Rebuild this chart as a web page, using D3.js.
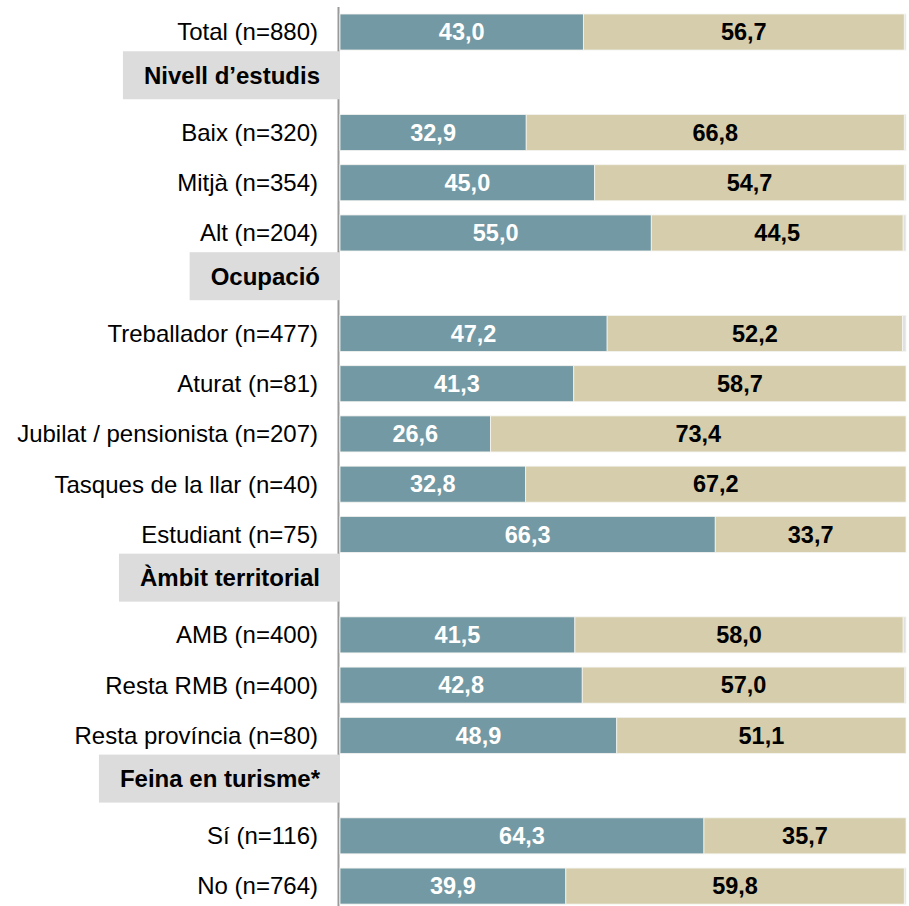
<!DOCTYPE html>
<html>
<head>
<meta charset="utf-8">
<script src="https://cdn.jsdelivr.net/npm/d3@7"></script>
<style>
  html, body { margin: 0; padding: 0; background: #fff; }
  svg { display: block; font-family: Arial, "Liberation Sans", sans-serif; }
</style>
</head>
<body>
<svg id="chart" width="909" height="906"></svg>
<script>
const categories = [
  "Total (n=880)", "Nivell d’estudis", "Baix (n=320)", "Mitjà (n=354)", "Alt (n=204)",
  "Ocupació", "Treballador (n=477)", "Aturat (n=81)", "Jubilat / pensionista (n=207)",
  "Tasques de la llar (n=40)", "Estudiant (n=75)", "Àmbit territorial", "AMB (n=400)",
  "Resta RMB (n=400)", "Resta província (n=80)", "Feina en turisme*", "Sí (n=116)", "No (n=764)"
];
const headers = ["Nivell d’estudis", "Ocupació", "Àmbit territorial", "Feina en turisme*"];
const seriesA = [43.0, null, 32.9, 45.0, 55.0, null, 47.2, 41.3, 26.6, 32.8, 66.3, null, 41.5, 42.8, 48.9, null, 64.3, 39.9];
const seriesB = [56.7, null, 66.8, 54.7, 44.5, null, 52.2, 58.7, 73.4, 67.2, 33.7, null, 58.0, 57.0, 51.1, null, 35.7, 59.8];
const seriesC = [0.3, null, 0.3, 0.3, 0.5, null, 0.6, 0, 0, 0, 0, null, 0.5, 0.2, 0, null, 0, 0.3];

const colors = { a: "#7399A4", b: "#D5CDAB", c: "#E1E1E1" };

const svg = d3.select("#chart");
const fmt = d3.formatLocale({ decimal: ",", thousands: "." }).format(".1f");

const x = d3.scaleLinear().domain([0, 100]).range([340, 906]);
const y = d3.scaleBand().domain(categories).range([6.9, 911.2])
  .paddingInner(0.283).paddingOuter(0.1415);

const rows = categories.map((c, i) => ({ cat: c, a: seriesA[i], b: seriesB[i], c: seriesC[i] }));
const barRows = rows.filter(r => !headers.includes(r.cat));
const stack = d3.stack().keys(["a", "b", "c"]);
const stacked = stack(barRows);

// axis line
svg.append("line")
  .attr("x1", 338.5).attr("x2", 338.5)
  .attr("y1", 7).attr("y2", 906)
  .attr("stroke", "#9a9a9a").attr("stroke-width", 2);

// bars
const g = svg.append("g");
stacked.forEach(layer => {
  g.selectAll(null).data(layer.filter(d => d[1] - d[0] > 0)).join("rect")
    .attr("x", d => x(d[0]))
    .attr("width", d => x(d[1]) - x(d[0]))
    .attr("y", d => y(d.data.cat))
    .attr("height", y.bandwidth())
    .attr("fill", colors[layer.key])
    .attr("stroke", "#f4f4f0").attr("stroke-width", 0.8);
});

// value labels
["a", "b"].forEach((key, li) => {
  const layer = stacked[li];
  g.selectAll(null).data(layer).join("text")
    .attr("x", d => (x(d[0]) + x(d[1])) / 2)
    .attr("y", d => y(d.data.cat) + y.bandwidth() / 2)
    .attr("dy", "0.35em")
    .attr("text-anchor", "middle")
    .attr("font-size", 23.5)
    .attr("font-weight", "bold")
    .attr("fill", key === "a" ? "#ffffff" : "#000000")
    .text(d => fmt(d.data[key]));
});

// category labels
svg.append("g").selectAll("text").data(barRows).join("text")
  .attr("x", 318)
  .attr("y", d => y(d.cat) + y.bandwidth() / 2)
  .attr("dy", "0.35em")
  .attr("text-anchor", "end")
  .attr("font-size", 24)
  .attr("fill", "#000")
  .text(d => d.cat);

// header rows
const hg = svg.append("g");
headers.forEach(h => {
  const cy = y(h) + y.bandwidth() / 2 - 7;
  const rect = hg.append("rect").attr("fill", "#DCDCDC");
  const t = hg.append("text")
    .attr("x", 320)
    .attr("y", cy)
    .attr("dy", "0.35em")
    .attr("text-anchor", "end")
    .attr("font-size", 24)
    .attr("font-weight", "bold")
    .attr("fill", "#000")
    .text(h);
  const w = t.node().getComputedTextLength();
  rect.attr("x", 320 - w - 21).attr("width", 340 - (320 - w - 21))
    .attr("y", cy - 24).attr("height", 48);
});
</script>
</body>
</html>
